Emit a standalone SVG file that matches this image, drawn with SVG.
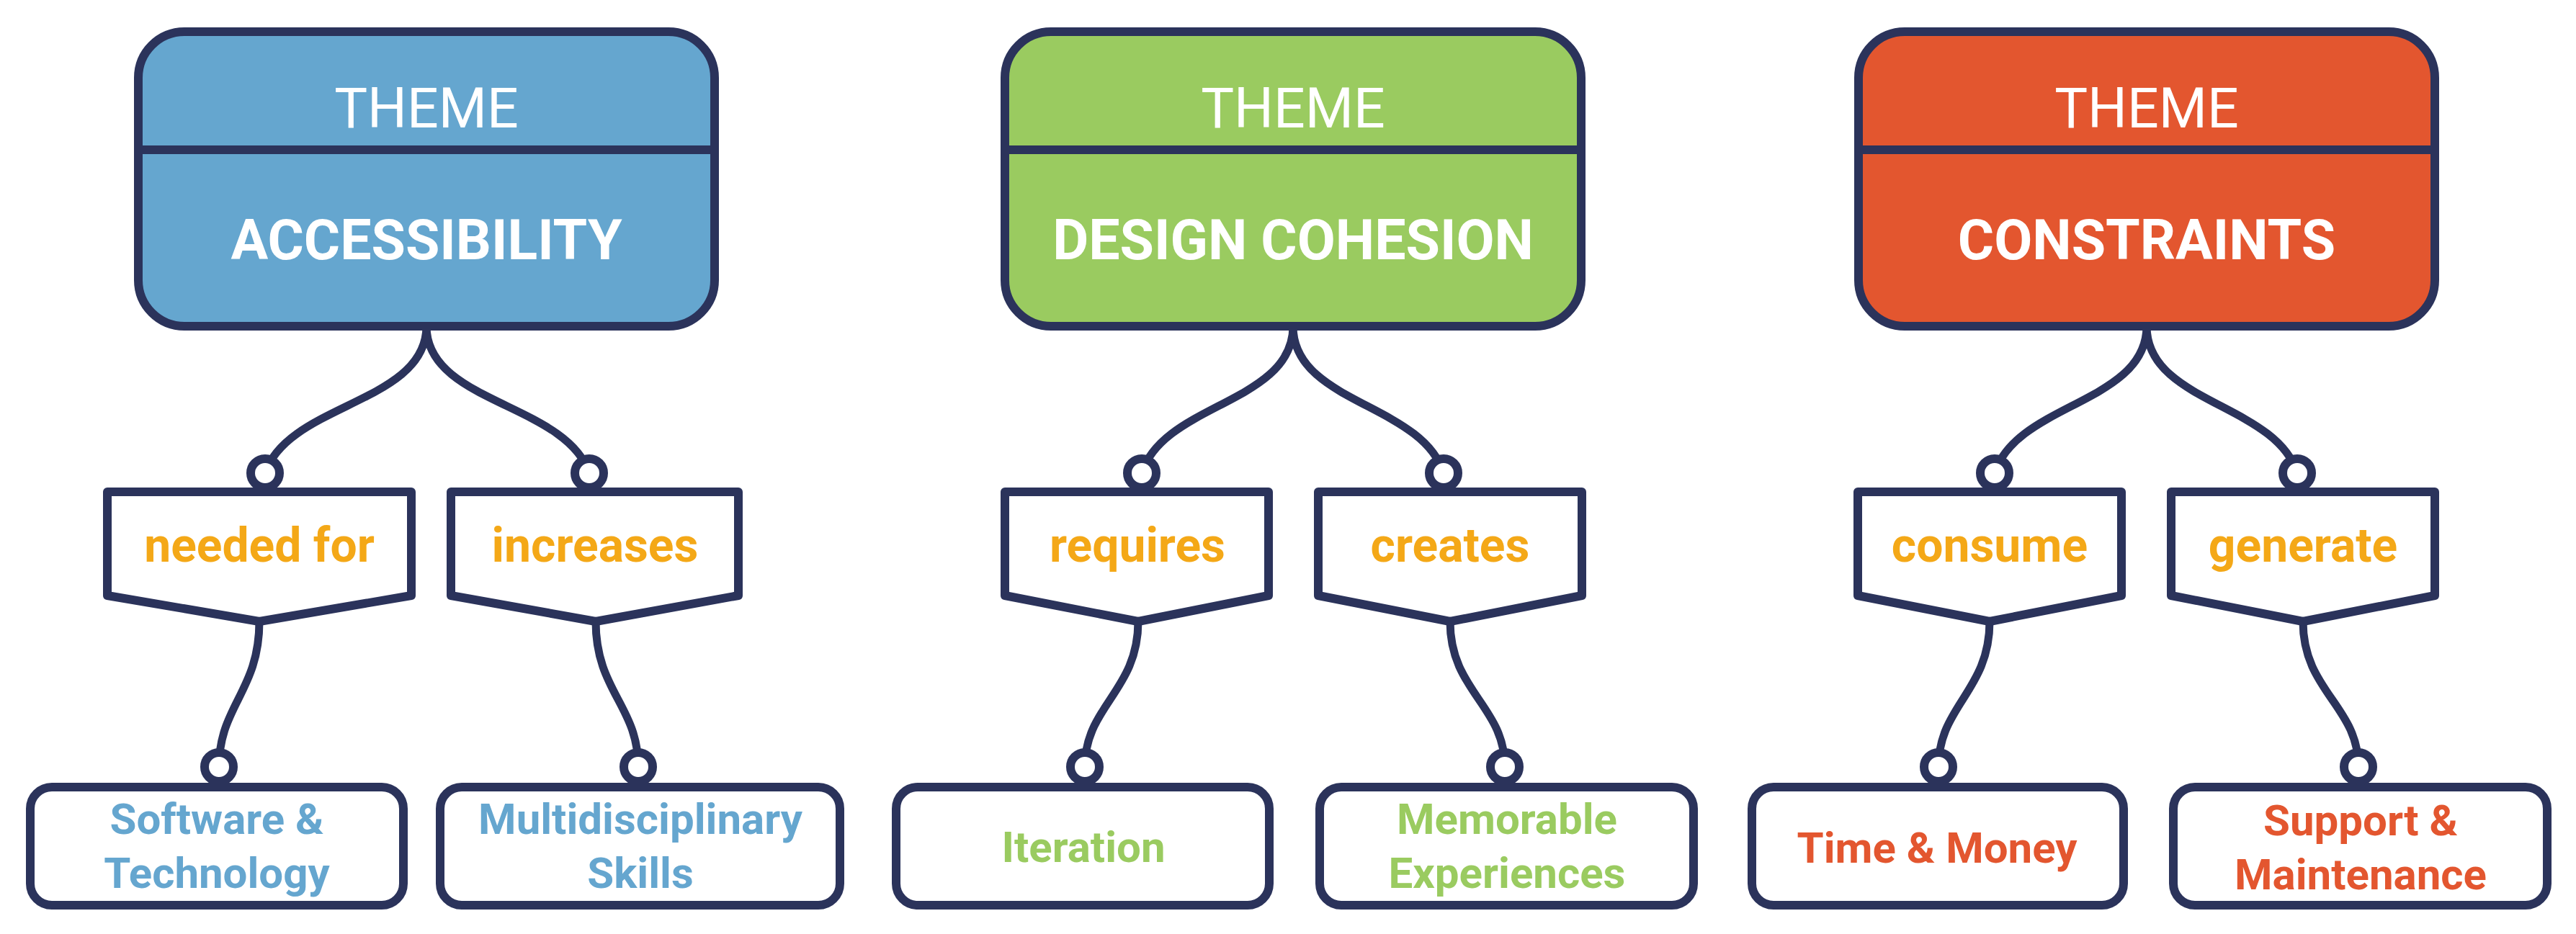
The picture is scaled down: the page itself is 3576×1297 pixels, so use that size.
<svg xmlns="http://www.w3.org/2000/svg" width="3576" height="1297" viewBox="0 0 3576 1297">
<style>
.bg{fill:#ffffff}
.theme{stroke:#2B335B;stroke-width:12}
.div{stroke:#2B335B;stroke-width:12}
.rel{fill:#ffffff;stroke:#2B335B;stroke-width:12;stroke-linejoin:round}
.ent{fill:#ffffff;stroke:#2B335B;stroke-width:12}
.conn{fill:none;stroke:#2B335B;stroke-width:11}
.dot{fill:#ffffff;stroke:#2B335B;stroke-width:12}
.t1{font-family:Roboto,"Liberation Sans",sans-serif;font-size:77px;fill:#ffffff;text-anchor:middle}
.t2{font-family:Roboto,"Liberation Sans",sans-serif;font-size:77px;font-weight:bold;fill:#ffffff;text-anchor:middle}
.tr{font-family:Roboto,"Liberation Sans",sans-serif;font-size:66px;font-weight:bold;fill:#F4A817;text-anchor:middle}
.te{font-family:Roboto,"Liberation Sans",sans-serif;font-size:60px;font-weight:bold;text-anchor:middle}
.blue{fill:#65A6CF}
.green{fill:#9ACB60}
.red{fill:#E3562F}
</style>
<rect class="bg" x="0" y="0" width="3576" height="1297"/>

<g id="connectors">
  <path class="conn" d="M592,453 C592,560 400,560 368,657"/>
  <path class="conn" d="M592,453 C592,560 786,560 818,657"/>
  <path class="conn" d="M1795,453 C1795,560 1615,560 1585,657"/>
  <path class="conn" d="M1795,453 C1795,560 1974,560 2004,657"/>
  <path class="conn" d="M2980,453 C2980,560 2799,560 2769,657"/>
  <path class="conn" d="M2980,453 C2980,560 3159,560 3189,657"/>
  <path class="conn" d="M360,863 C360,960 304,980 304,1065"/>
  <path class="conn" d="M827,863 C827,960 886,980 886,1065"/>
  <path class="conn" d="M1580,863 C1580,960 1506,980 1506,1065"/>
  <path class="conn" d="M2013,863 C2013,960 2089,980 2089,1065"/>
  <path class="conn" d="M2762,863 C2762,960 2691,980 2691,1065"/>
  <path class="conn" d="M3197,863 C3197,960 3274,980 3274,1065"/>
  <circle class="dot" cx="368" cy="657" r="20"/>
  <circle class="dot" cx="818" cy="657" r="20"/>
  <circle class="dot" cx="1585" cy="657" r="20"/>
  <circle class="dot" cx="2004" cy="657" r="20"/>
  <circle class="dot" cx="2769" cy="657" r="20"/>
  <circle class="dot" cx="3189" cy="657" r="20"/>
  <circle class="dot" cx="304" cy="1065" r="20"/>
  <circle class="dot" cx="886" cy="1065" r="20"/>
  <circle class="dot" cx="1506" cy="1065" r="20"/>
  <circle class="dot" cx="2089" cy="1065" r="20"/>
  <circle class="dot" cx="2691" cy="1065" r="20"/>
  <circle class="dot" cx="3274" cy="1065" r="20"/>
</g>

<g id="theme-accessibility">
  <rect class="theme" x="192" y="44" width="800" height="409" rx="64" fill="#65A6CF"/>
  <line class="div" x1="192" y1="208" x2="992" y2="208"/>
  <text class="t1" x="592" y="177">THEME</text>
  <text class="t2" x="592" y="360">ACCESSIBILITY</text>
</g>
<g id="theme-design-cohesion">
  <rect class="theme" x="1395" y="44" width="800" height="409" rx="64" fill="#9ACB60"/>
  <line class="div" x1="1395" y1="208" x2="2195" y2="208"/>
  <text class="t1" x="1795" y="177">THEME</text>
  <text class="t2" x="1795" y="360">DESIGN COHESION</text>
</g>
<g id="theme-constraints">
  <rect class="theme" x="2580" y="44" width="800" height="409" rx="64" fill="#E3562F"/>
  <line class="div" x1="2580" y1="208" x2="3380" y2="208"/>
  <text class="t1" x="2980" y="177">THEME</text>
  <text class="t2" x="2980" y="360">CONSTRAINTS</text>
</g>

<g id="rel-needed-for">
  <path class="rel" d="M149,683 H571 V827 L360,863 L149,827 Z"/>
  <text class="tr" x="360" y="780">needed for</text>
</g>
<g id="rel-increases">
  <path class="rel" d="M626,683 H1025 V827 L827,863 L626,827 Z"/>
  <text class="tr" x="826" y="780">increases</text>
</g>
<g id="rel-requires">
  <path class="rel" d="M1395,683 H1761 V827 L1580,863 L1395,827 Z"/>
  <text class="tr" x="1579" y="780">requires</text>
</g>
<g id="rel-creates">
  <path class="rel" d="M1830,683 H2196 V827 L2013,863 L1830,827 Z"/>
  <text class="tr" x="2013" y="780">creates</text>
</g>
<g id="rel-consume">
  <path class="rel" d="M2579,683 H2945 V827 L2762,863 L2579,827 Z"/>
  <text class="tr" x="2762" y="780">consume</text>
</g>
<g id="rel-generate">
  <path class="rel" d="M3014,683 H3380 V827 L3197,863 L3014,827 Z"/>
  <text class="tr" x="3197" y="780">generate</text>
</g>

<g id="ent-software-technology">
  <rect class="ent" x="42" y="1093" width="518" height="164" rx="30"/>
  <text class="te blue" x="301" y="1158">Software &amp;</text>
  <text class="te blue" x="301" y="1233">Technology</text>
</g>
<g id="ent-multidisciplinary-skills">
  <rect class="ent" x="611" y="1093" width="555" height="164" rx="30"/>
  <text class="te blue" x="889" y="1158">Multidisciplinary</text>
  <text class="te blue" x="889" y="1233">Skills</text>
</g>
<g id="ent-iteration">
  <rect class="ent" x="1244" y="1093" width="518" height="164" rx="30"/>
  <text class="te green" x="1504" y="1197">Iteration</text>
</g>
<g id="ent-memorable-experiences">
  <rect class="ent" x="1832" y="1093" width="519" height="164" rx="30"/>
  <text class="te green" x="2092" y="1158">Memorable</text>
  <text class="te green" x="2092" y="1233">Experiences</text>
</g>
<g id="ent-time-money">
  <rect class="ent" x="2432" y="1093" width="516" height="164" rx="30"/>
  <text class="te red" x="2689" y="1198">Time &amp; Money</text>
</g>
<g id="ent-support-maintenance">
  <rect class="ent" x="3017" y="1093" width="519" height="164" rx="30"/>
  <text class="te red" x="3277" y="1160">Support &amp;</text>
  <text class="te red" x="3277" y="1235">Maintenance</text>
</g>
</svg>
